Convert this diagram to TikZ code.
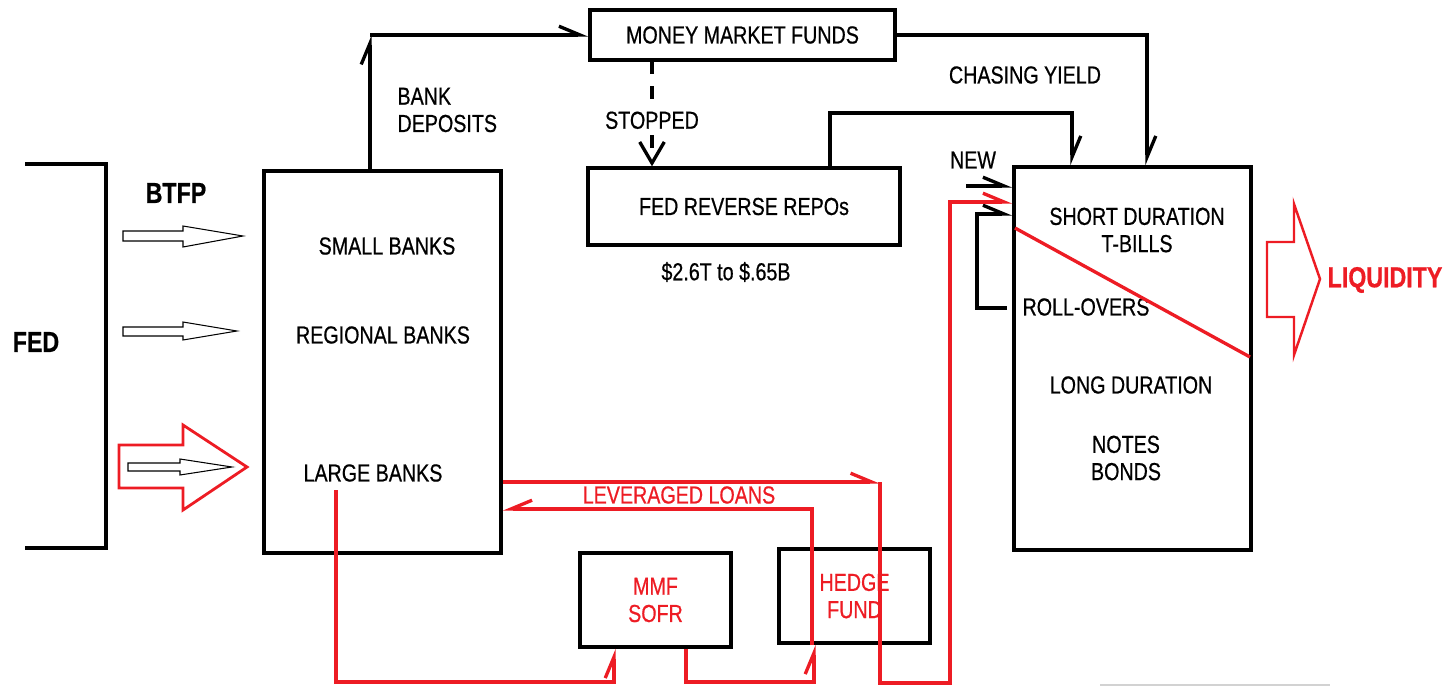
\documentclass[tikz,border=0pt]{standalone}
\usepackage{fontspec}
\setmainfont{Liberation Sans}[FakeStretch=0.8,FakeBold=0.6]
\usetikzlibrary{arrows.meta}
\definecolor{paintred}{RGB}{237,28,36}

\begin{document}
\begin{tikzpicture}[x=0.02cm,y=-0.02cm,line width=1.9pt,
                    font=\fontsize{14}{15.5}\selectfont]
  \tikzstyle{box}=[draw,inner sep=0pt,align=center]
  \tikzstyle{flow}=[-{Straight Barb[left,length=12pt,width=10pt]}]
  \tikzstyle{flowback}=[-{Straight Barb[right,length=12pt,width=10pt]}]
  \tikzstyle{big}=[font=\fontsize{16.5}{18}\selectfont\bfseries]
  \tikzstyle{hollow}=[line width=0.6pt,fill=white]

  \useasboundingbox (0,0) rectangle (1450,686);

  \node[box,minimum width=6.1cm,minimum height=1cm] (mmf) at (742.5,35) {MONEY MARKET FUNDS};
  \node[box,minimum width=6.24cm,minimum height=1.54cm] (rrp) at (744,206.5) {FED REVERSE REPOs};
  \node[box,minimum width=4.74cm,minimum height=7.64cm] (banks) at (382.5,362) {};
  \node[box,minimum width=4.74cm,minimum height=7.66cm] (bills) at (1132.5,358.5) {};
  \node[box,minimum width=3.02cm,minimum height=1.88cm,text=paintred] (sofr) at (655.5,600) {MMF\\SOFR};
  \node[box,minimum width=3.02cm,minimum height=1.88cm,text=paintred] (hedge) at (854.5,596) {HEDGE\\FUND};

  \draw (25,164) -- (106,164) -- (106,548) -- (25,548);
  \node[big] (fed) at (36,342) {FED};
  \node[big] (btfp) at (176,193) {BTFP};
  \draw[hollow] (123,231) -- (183,231) -- (183,226) -- (243,236) -- (183,247) -- (183,241) -- (123,241) -- cycle;
  \draw[hollow] (123,327) -- (183,327) -- (183,322) -- (237,331) -- (183,340) -- (183,336) -- (123,336) -- cycle;
  \draw[paintred,line width=1.6pt] (119,445) -- (183,445) -- (183,425) -- (247,467) -- (183,510) -- (183,488) -- (119,488) -- cycle;
  \draw[hollow] (128,463) -- (180,463) -- (180,459) -- (232,467) -- (180,475) -- (180,471) -- (128,471) -- cycle;

  \node (small) at (387,246) {SMALL BANKS};
  \node (regional) at (383,335) {REGIONAL BANKS};
  \node (large) at (373,473) {LARGE BANKS};

  \coordinate (up) at (370,35);
  \draw[flow] (banks.north -| up) -- (up);
  \draw[flow] (up) -- (mmf.west);
  \node[anchor=west,align=left] (deposits) at (390,110) {BANK\\DEPOSITS};

  \coordinate (stop) at (652,0);
  \draw[dash pattern=on 7pt off 7pt,-{Straight Barb[length=12pt,width=14pt]}] (mmf.south -| stop) -- (rrp.north -| stop)
    node[pos=0.56,fill=white,inner sep=1pt] (stopped) {STOPPED};
  \node (amount) at (726,272) {\$2.6T to \$.65B};

  \coordinate (t1) at (830,113);
  \coordinate (t2) at (1072,113);
  \draw[flow] (rrp.north -| t1) -- (t1) -- (t2) -- (t2 |- bills.north);
  \coordinate (t3) at (1147,35);
  \draw[flow] (mmf.east) -- (t3) -- (t3 |- bills.north);
  \node (chasing) at (1025,75) {CHASING YIELD};

  \node (new) at (973,160) {NEW};
  \coordinate (newin) at (966,186);
  \draw[flow] (newin) -- (newin -| bills.west);
  \coordinate (ro) at (1007,308);
  \coordinate (ro1) at (977,308);
  \coordinate (ro2) at (977,214);
  \draw[flow] (ro) -- (ro1) -- (ro2) -- (ro2 -| bills.west);
  \node (rollovers) at (1086,307) {ROLL-OVERS};

  \node[align=center] (short) at (1137,230) {SHORT DURATION\\T-BILLS};
  \draw[paintred] (1015,228) -- (1250,357);
  \node (long) at (1131,385) {LONG DURATION};
  \node[align=center] (notes) at (1126,458) {NOTES\\BONDS};

  \draw[paintred,line width=1.4pt] (1267,242) -- (1294,242) -- (1294,204) -- (1320,279) -- (1294,355) -- (1294,317) -- (1267,317) -- cycle;
  \node[big,text=paintred,anchor=west,inner sep=0pt] (liquidity) at (1326,280) {LIQUIDITY};

  \coordinate (r1) at (880,482);
  \coordinate (r2) at (950,683);
  \coordinate (r3) at (950,202);
  \draw[flow,paintred] (banks.east |- r1) -- (r1);
  \draw[flow,paintred] (r1) |- (r2) -- (r3) -- (r3 -| bills.west);
  \node[text=paintred] (loans) at (679,495) {LEVERAGED LOANS};

  \coordinate (lb) at (336,490);
  \coordinate (b1) at (614,682);
  \draw[flow,paintred] (lb) |- (b1) -- (b1 |- sofr.south);
  \coordinate (b2) at (686,682);
  \coordinate (b3) at (814,682);
  \draw[flow,paintred] (b2 |- sofr.south) -- (b2) -- (b3) -- (b3 |- hedge.south);
  \coordinate (b4) at (812,509);
  \draw[flowback,paintred] (b4 |- hedge.south) -- (b4) -- (b4 -| banks.east);

  \draw[gray!35,line width=0.8pt] (1100,685) -- (1330,685);
\end{tikzpicture}
\end{document}
